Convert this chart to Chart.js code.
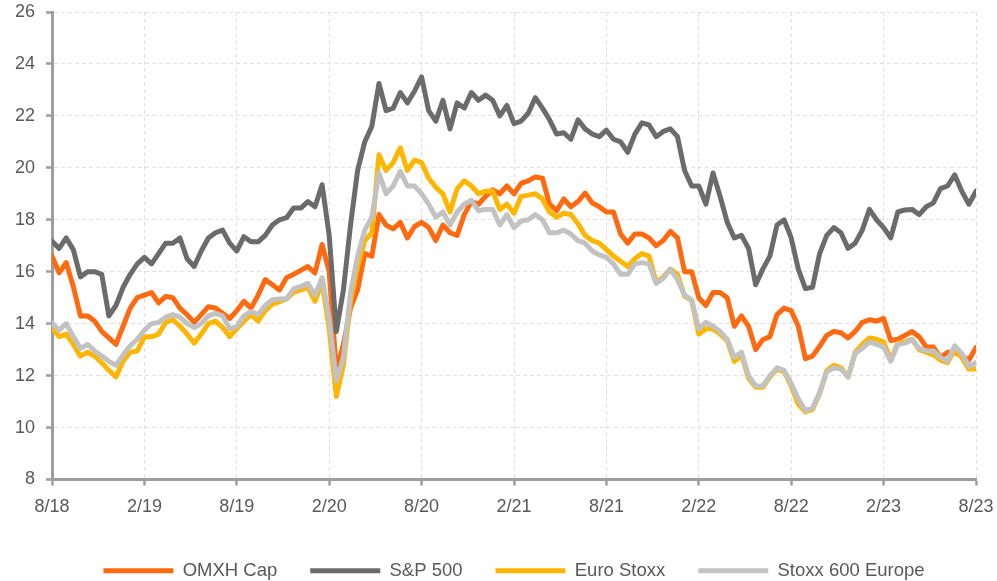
<!DOCTYPE html>
<html>
<head>
<meta charset="utf-8">
<script src="https://cdn.jsdelivr.net/npm/chart.js@4/dist/chart.umd.min.js"></script>
<style>
  html, body { margin: 0; padding: 0; background: #fff; }
  #wrap { width: 997px; height: 581px; }
</style>
</head>
<body>
<div id="wrap"><canvas id="valuationChart"></canvas></div>
<script>
// x axis labels, one every 13 points (points are two weeks apart)
const tickLabels = ['8/18', '2/19', '8/19', '2/20', '8/20', '2/21', '8/21', '2/22', '8/22', '2/23', '8/23'];
const seriesNames = ['OMXH Cap', 'S&P 500', 'Euro Stoxx', 'Stoxx 600 Europe'];

// P/E values, fortnightly from 8/18 to 8/23
const omxh = [
  16.6, 15.96, 16.35, 15.43, 14.3, 14.3, 14.1, 13.7, 13.45, 13.2,
  13.9, 14.6, 15.0, 15.1, 15.2, 14.8, 15.05, 15.0, 14.6, 14.35,
  14.05, 14.35, 14.65, 14.6, 14.4, 14.2, 14.5, 14.86, 14.6, 15.1,
  15.7, 15.5, 15.3, 15.77, 15.9, 16.05, 16.2, 15.95, 17.05, 16.0,
  12.2, 13.2, 14.6, 15.3, 16.7, 16.6, 18.2, 17.8, 17.65, 17.9,
  17.3, 17.74, 17.9, 17.7, 17.2, 17.8, 17.5, 17.4, 18.2, 18.7,
  18.6, 18.9, 19.15, 19.0, 19.3, 19.0, 19.4, 19.5, 19.65, 19.6,
  18.6, 18.35, 18.8, 18.5, 18.7, 19.03, 18.65, 18.5, 18.3, 18.3,
  17.45, 17.1, 17.45, 17.45, 17.3, 17.0, 17.2, 17.55, 17.3, 16.0,
  16.0, 15.0, 14.7, 15.2, 15.2, 15.0, 13.9, 14.3, 13.9, 13.0,
  13.38, 13.5, 14.35, 14.6, 14.5, 13.9, 12.65, 12.75, 13.13, 13.55,
  13.7, 13.65, 13.45, 13.7, 14.05, 14.15, 14.1, 14.2, 13.35, 13.4,
  13.55, 13.7, 13.5, 13.1, 13.1, 12.7, 12.9, 12.9, 12.75, 12.6, 13.08
];
const sp500 = [
  17.17, 16.9, 17.3, 16.85, 15.8, 16.0, 16.0, 15.9, 14.3, 14.7,
  15.4, 15.9, 16.3, 16.55, 16.3, 16.7, 17.1, 17.1, 17.3, 16.5,
  16.2, 16.8, 17.3, 17.5, 17.6, 17.1, 16.8, 17.35, 17.15, 17.15,
  17.4, 17.8, 18.0, 18.08, 18.45, 18.45, 18.7, 18.5, 19.35, 17.4,
  13.7, 15.3, 17.8, 19.9, 21.0, 21.6, 23.25, 22.2, 22.3, 22.9,
  22.5, 22.95, 23.5, 22.2, 21.8, 22.6, 21.5, 22.5, 22.3, 22.9,
  22.6, 22.8, 22.6, 22.0, 22.4, 21.7, 21.8, 22.1, 22.7, 22.3,
  21.85, 21.3, 21.35, 21.1, 21.85, 21.5, 21.3, 21.2, 21.45, 21.1,
  21.0, 20.6, 21.3, 21.73, 21.65, 21.2, 21.4, 21.5, 21.2, 19.9,
  19.3, 19.3, 18.6, 19.8, 18.9, 17.9, 17.3, 17.4, 16.9, 15.5,
  16.1, 16.6, 17.8, 18.0, 17.3, 16.1, 15.35, 15.4, 16.7, 17.4,
  17.7, 17.5, 16.9, 17.1, 17.6, 18.4, 18.0, 17.7, 17.3, 18.3,
  18.38, 18.4, 18.2, 18.5, 18.65, 19.2, 19.3, 19.73, 19.1, 18.6, 19.1
];
const euroStoxx = [
  13.85, 13.5, 13.6, 13.2, 12.75, 12.9, 12.75, 12.5, 12.2, 11.95,
  12.55, 12.9, 12.95, 13.5, 13.5, 13.6, 14.05, 14.15, 13.9, 13.6,
  13.25, 13.6, 14.0, 14.1, 13.85, 13.5, 13.8, 14.1, 14.35, 14.1,
  14.5, 14.75, 14.85, 14.95, 15.2, 15.3, 15.4, 14.86, 15.6, 13.8,
  11.2, 12.4, 14.9, 16.2, 17.2, 17.5, 20.5, 19.9, 20.2, 20.77,
  19.9, 20.3, 20.2, 19.6, 19.25, 19.0, 18.3, 19.2, 19.5, 19.3,
  19.0, 19.1, 19.1, 18.4, 18.6, 18.25, 18.9, 18.95, 19.0, 18.8,
  18.3, 18.1, 18.25, 18.2, 17.85, 17.4, 17.2, 17.1, 16.85, 16.6,
  16.4, 16.2, 16.5, 16.7, 16.6, 15.6, 15.8, 16.1, 15.9, 15.05,
  14.9, 13.6, 13.8, 13.8, 13.6, 13.35, 12.55, 12.8, 11.9, 11.55,
  11.55, 11.95, 12.25, 12.15, 11.6, 10.9, 10.6, 10.7, 11.3, 12.2,
  12.4, 12.3, 11.95, 12.9, 13.2, 13.45, 13.4, 13.3, 12.6, 13.25,
  13.3, 13.4, 13.0, 12.9, 12.8, 12.6, 12.5, 13.0, 12.7, 12.25, 12.25
];
const stoxx600 = [
  14.03, 13.75, 14.0, 13.5, 13.05, 13.2, 12.95, 12.75, 12.55, 12.4,
  12.8, 13.15, 13.4, 13.75, 14.0, 14.05, 14.25, 14.35, 14.25, 14.0,
  13.85, 14.0, 14.3, 14.4, 14.3, 13.8, 13.9, 14.3, 14.47, 14.35,
  14.7, 14.92, 14.95, 14.95, 15.35, 15.43, 15.55, 15.1, 15.77, 14.2,
  11.8, 12.7, 15.2, 16.6, 17.6, 18.1, 19.8, 19.0, 19.3, 19.86,
  19.3, 19.3, 19.0, 18.6, 18.1, 18.3, 17.8, 18.3, 18.6, 18.75,
  18.35, 18.4, 18.4, 17.8, 18.2, 17.7, 17.95, 18.0, 18.2, 18.0,
  17.5, 17.5, 17.6, 17.45, 17.2, 17.1, 16.8, 16.65, 16.55, 16.3,
  15.9, 15.9, 16.3, 16.35, 16.3, 15.55, 15.75, 16.1, 15.7, 15.1,
  14.9, 13.8, 14.05, 13.9, 13.7, 13.4, 12.7, 12.9, 12.0, 11.6,
  11.6, 12.0, 12.3, 12.2, 11.7, 11.1, 10.65, 10.75, 11.35, 12.15,
  12.3, 12.25, 11.95, 12.85, 13.05, 13.3, 13.2, 13.1, 12.55, 13.2,
  13.25, 13.38, 13.05, 12.95, 12.95, 12.7, 12.55, 13.15, 12.85, 12.35, 12.5
];

const colors = ['#ff6a10', '#6b6b6b', '#ffb600', '#c2c2c2'];
const FONT = "'Liberation Sans', Arial, sans-serif";

function toPoints(values) {
  return values.map((v, i) => ({ x: i, y: v }));
}

const allSeries = [omxh, sp500, euroStoxx, stoxx600];
const datasets = allSeries.map((values, k) => ({
  label: seriesNames[k],
  data: toPoints(values),
  borderColor: colors[k],
  backgroundColor: colors[k],
  borderWidth: 5,
  borderJoinStyle: 'round',
  borderCapStyle: 'round',
  pointRadius: 0,
  tension: 0,
  order: 4 - k // last series sits on top, like the original
}));

const axisGrey = '#9e9e9e';

new Chart(document.getElementById('valuationChart'), {
  type: 'line',
  data: { datasets: datasets },
  options: {
    responsive: true,
    maintainAspectRatio: false,
    animation: false,
    layout: { padding: { top: 12, right: 21, bottom: -9, left: 0 } },
    scales: {
      x: {
        type: 'linear',
        min: 0,
        max: 130,
        ticks: {
          stepSize: 13,
          padding: 11,
          color: '#595959',
          font: { family: FONT, size: 18 },
          maxRotation: 0,
          callback: value => tickLabels[value / 13]
        },
        grid: { color: '#e0e0e0', lineWidth: 1, tickLength: 6, tickColor: axisGrey, tickWidth: 2.5 },
        border: { color: axisGrey, width: 3, dash: [4, 3] },
        afterFit: scale => {
          scale.height = 49;
          scale.paddingLeft = 0;
          scale.paddingRight = 0;
        }
      },
      y: {
        min: 8,
        max: 26,
        ticks: {
          stepSize: 2,
          padding: 11,
          color: '#595959',
          font: { family: FONT, size: 18 }
        },
        grid: { color: '#e0e0e0', lineWidth: 1, tickLength: 6, tickColor: axisGrey, tickWidth: 2.5 },
        border: { color: axisGrey, width: 3, dash: [4, 3] },
        afterFit: scale => {
          scale.width = 52;
          scale.paddingTop = 0;
          scale.paddingBottom = 0;
        }
      }
    },
    plugins: {
      legend: {
        position: 'bottom',
        fullSize: false,
        labels: {
          usePointStyle: true,
          pointStyle: 'line',
          pointStyleWidth: 70,
          padding: 33,
          color: '#595959',
          font: { family: FONT, size: 18.5 },
          sort: (a, b) => a.datasetIndex - b.datasetIndex
        }
      },
      tooltip: { enabled: false }
    }
  }
});
</script>
</body>
</html>
